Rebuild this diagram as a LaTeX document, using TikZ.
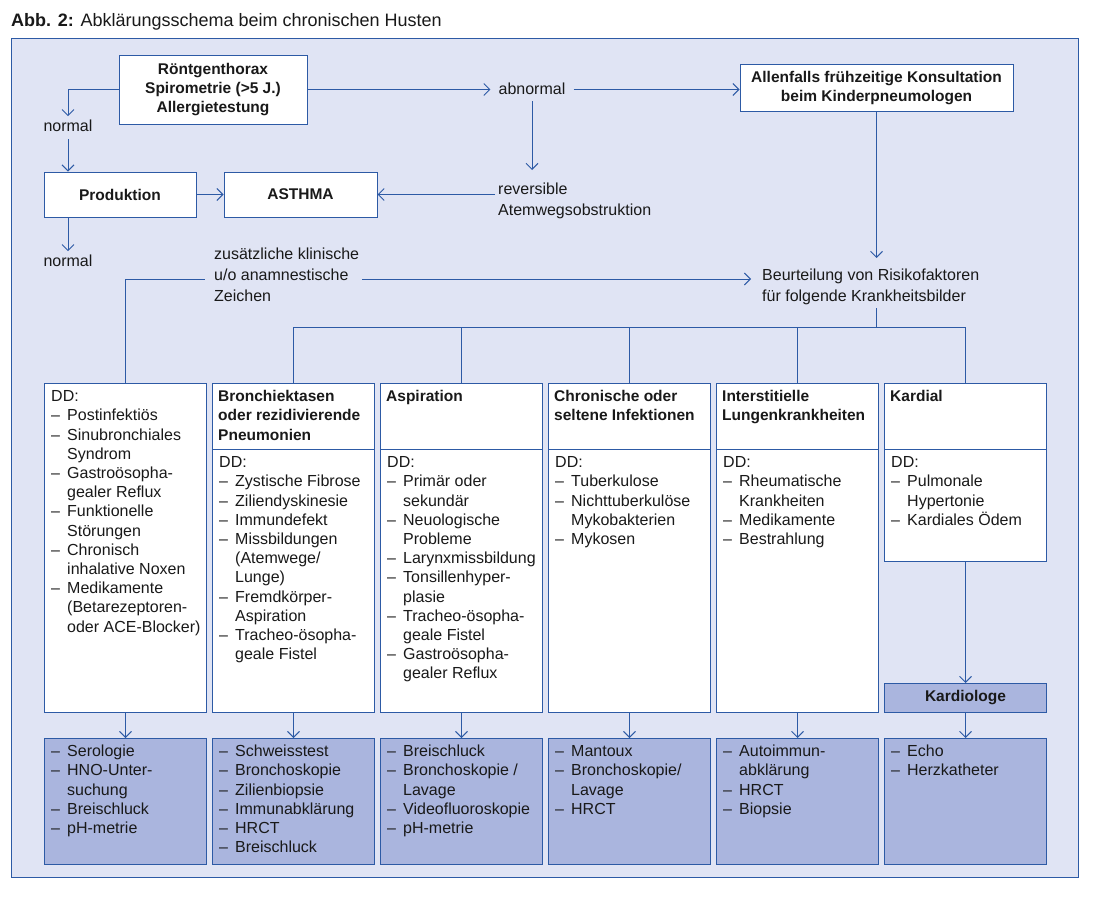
\documentclass[tikz,border=0pt]{standalone}
\usepackage{fontspec}
\setmainfont{Liberation Sans}
\usetikzlibrary{arrows.meta,calc}
\definecolor{frameblue}{RGB}{45,90,165}
\definecolor{bgl}{RGB}{224,228,244}
\definecolor{boxfill}{RGB}{170,181,222}
\definecolor{txtc}{RGB}{25,25,25}
\newcommand\tstrut{\rule{0pt}{12.5pt}}
\newcommand\itm[1]{\makebox[16pt][l]{–}#1}
\newcommand\cnt[1]{\hspace*{16pt}#1}
\begin{document}
\begin{tikzpicture}[x=1pt,y=-1pt,
  conn/.style={draw=frameblue, line width=0.95pt},
  arr/.style={conn, -{Straight Barb[length=6pt,width=12pt]}},
  box/.style={draw=frameblue, line width=1pt, fill=white, anchor=north west, inner sep=0pt, minimum width=162pt},
  bbox/.style={box, fill=boxfill},
  cbox/.style={draw=frameblue, line width=1pt, fill=white, inner sep=0pt, align=center, text=txtc,
    font=\fontsize{15.5}{19}\selectfont\bfseries},
  tb/.style={font=\fontsize{16}{19.2}\selectfont, text=txtc, align=left, inner sep=0pt, anchor=north west},
  hb/.style={tb, font=\fontsize{15.5}{19.2}\selectfont\bfseries},
  lbl/.style={font=\fontsize{16}{21}\selectfont, text=txtc, align=left, inner sep=3pt},
]
\useasboundingbox (0,0) rectangle (1100,902);

% title
\node[anchor=base west, inner sep=0pt, text=txtc, font=\fontsize{18}{21}\selectfont] (title) at (11,26)
  {\textbf{Abb. 2:} Abklärungsschema beim chronischen Husten};

% frame
\node[draw=frameblue, fill=bgl, line width=1.2pt, anchor=north west, inner sep=0pt,
      minimum width=1067pt, minimum height=839pt] (frame) at (11,38) {};

% top boxes
\node[cbox, minimum width=188pt, minimum height=69pt] (rg) at (213,89.5)
  {Röntgenthorax\\Spirometrie (>5 J.)\\Allergietestung};
\node[cbox, minimum width=273pt, minimum height=47pt] (allen) at (876.5,88)
  {Allenfalls frühzeitige Konsultation\\beim Kinderpneumologen};
\node[cbox, minimum width=152pt, minimum height=45pt] (prod) at (120,194.5) {Produktion};
\node[cbox, minimum width=153pt, minimum height=45pt] (asthma) at (300.5,194.5) {ASTHMA};

% free labels
\node[lbl, anchor=base] (n1) at (68,131) {normal};
\node[lbl, anchor=base] (n2) at (68,266) {normal};
\node[lbl, anchor=base, inner xsep=8pt] (abn) at (532,94) {abnormal};
\node[lbl, anchor=north west] (rev) at (495,179) {\tstrut reversible\\Atemwegsobstruktion};
\node[lbl, anchor=north west] (zus) at (211,244) {\tstrut zusätzliche klinische\\u/o anamnestische\\Zeichen};
\node[lbl, anchor=north west] (beur) at (759,265) {\tstrut Beurteilung von Risikofaktoren\\für folgende Krankheitsbilder};
\coordinate (zy) at (0,279);
\coordinate (bus) at (0,327);

% column boxes
\node[box, minimum height=329pt] (c1) at (44,383) {};
\foreach \i/\x in {2/212,3/380,4/548,5/716,6/884}{
  \node[box, minimum height=66pt] (h\i) at (\x,383) {};
}
\foreach \i/\x in {2/212,3/380,4/548,5/716}{
  \node[box, minimum height=263pt] (d\i) at (\x,449) {};
}
\node[box, minimum height=112pt] (d6) at (884,449) {};
\node[bbox, minimum height=29pt] (kard) at (884,683) {};
\node[font=\fontsize{15.5}{19}\selectfont\bfseries, text=txtc, inner sep=0pt] (kardt) at (kard.center) {Kardiologe};
\foreach \i/\x in {1/44,2/212,3/380,4/548,5/716,6/884}{
  \node[bbox, minimum height=126pt] (b\i) at (\x,738) {};
}

% column texts
\node[tb] (c1t) at ([shift={(7,6)}]c1.north west) {\tstrut DD:\\\itm{Postinfektiös}\\\itm{Sinubronchiales}\\\cnt{Syndrom}\\\itm{Gastroösopha-}\\\cnt{gealer Reflux}\\\itm{Funktionelle}\\\cnt{Störungen}\\\itm{Chronisch}\\\cnt{inhalative Noxen}\\\itm{Medikamente}\\\cnt{(Betarezeptoren-}\\\cnt{oder ACE-Blocker)}};

\node[hb] (h2t) at ([shift={(6,6)}]h2.north west) {\tstrut Bronchiektasen\\oder rezidivierende\\Pneumonien};
\node[hb] (h3t) at ([shift={(6,6)}]h3.north west) {\tstrut Aspiration};
\node[hb] (h4t) at ([shift={(6,6)}]h4.north west) {\tstrut Chronische oder\\seltene Infektionen};
\node[hb] (h5t) at ([shift={(6,6)}]h5.north west) {\tstrut Interstitielle\\Lungenkrankheiten};
\node[hb] (h6t) at ([shift={(6,6)}]h6.north west) {\tstrut Kardial};

\node[tb] (d2t) at ([shift={(7,6)}]d2.north west) {\tstrut DD:\\\itm{Zystische Fibrose}\\\itm{Ziliendyskinesie}\\\itm{Immundefekt}\\\itm{Missbildungen}\\\cnt{(Atemwege/}\\\cnt{Lunge)}\\\itm{Fremdkörper-}\\\cnt{Aspiration}\\\itm{Tracheo-ösopha-}\\\cnt{geale Fistel}};
\node[tb] (d3t) at ([shift={(7,6)}]d3.north west) {\tstrut DD:\\\itm{Primär oder}\\\cnt{sekundär}\\\itm{Neuologische}\\\cnt{Probleme}\\\itm{Larynxmissbildung}\\\itm{Tonsillenhyper-}\\\cnt{plasie}\\\itm{Tracheo-ösopha-}\\\cnt{geale Fistel}\\\itm{Gastroösopha-}\\\cnt{gealer Reflux}};
\node[tb] (d4t) at ([shift={(7,6)}]d4.north west) {\tstrut DD:\\\itm{Tuberkulose}\\\itm{Nichttuberkulöse}\\\cnt{Mykobakterien}\\\itm{Mykosen}};
\node[tb] (d5t) at ([shift={(7,6)}]d5.north west) {\tstrut DD:\\\itm{Rheumatische}\\\cnt{Krankheiten}\\\itm{Medikamente}\\\itm{Bestrahlung}};
\node[tb] (d6t) at ([shift={(7,6)}]d6.north west) {\tstrut DD:\\\itm{Pulmonale}\\\cnt{Hypertonie}\\\itm{Kardiales Ödem}};

\node[tb] (b1t) at ([shift={(7,6)}]b1.north west) {\tstrut\itm{Serologie}\\\itm{HNO-Unter-}\\\cnt{suchung}\\\itm{Breischluck}\\\itm{pH-metrie}};
\node[tb] (b2t) at ([shift={(7,6)}]b2.north west) {\tstrut\itm{Schweisstest}\\\itm{Bronchoskopie}\\\itm{Zilienbiopsie}\\\itm{Immunabklärung}\\\itm{HRCT}\\\itm{Breischluck}};
\node[tb] (b3t) at ([shift={(7,6)}]b3.north west) {\tstrut\itm{Breischluck}\\\itm{Bronchoskopie /}\\\cnt{Lavage}\\\itm{Videofluoroskopie}\\\itm{pH-metrie}};
\node[tb] (b4t) at ([shift={(7,6)}]b4.north west) {\tstrut\itm{Mantoux}\\\itm{Bronchoskopie/}\\\cnt{Lavage}\\\itm{HRCT}};
\node[tb] (b5t) at ([shift={(7,6)}]b5.north west) {\tstrut\itm{Autoimmun-}\\\cnt{abklärung}\\\itm{HRCT}\\\itm{Biopsie}};
\node[tb] (b6t) at ([shift={(7,6)}]b6.north west) {\tstrut\itm{Echo}\\\itm{Herzkatheter}};

% connectors top
\draw[arr] (rg.west) -| (n1.north);
\draw[arr, shorten <=5pt] (n1.south) -- (n1.south |- prod.north);
\draw[arr] (prod.east) -- (asthma.west);
\draw[arr] (prod.south -| n2) -- (n2.north);
\draw[arr] (rg.east) -- (rg.east -| abn.west);
\draw[arr] (abn.east |- rg.east) -- (rg.east -| allen.west);
\draw[arr, shorten <=4pt, shorten >=9pt] (abn.south) -- (abn.south |- rev.north);
\draw[arr] (asthma.east -| rev.west) -- (asthma.east);
\draw[arr, shorten >=7pt] (allen.south) -- (allen.south |- beur.north);

% zusätzliche
\draw[conn] (c1.north) |- ([xshift=-6pt]zus.west |- zy);
\draw[arr, shorten >=8pt] (zus.east |- zy) -- (beur.west |- zy);

% bus
\draw[conn] (allen.south |- beur.south) -- (allen.south |- bus);
\draw[conn] (h2.north |- bus) -- (h6.north |- bus);
\foreach \i in {2,...,6}{
  \draw[conn] (h\i.north |- bus) -- (h\i.north);
}

% down arrows
\draw[arr] (c1.south) -- (b1.north);
\foreach \i in {2,...,5}{
  \draw[arr] (d\i.south) -- (b\i.north);
}
\draw[arr] (d6.south) -- (kard.north);
\draw[arr] (kard.south) -- (b6.north);
\end{tikzpicture}
\end{document}
